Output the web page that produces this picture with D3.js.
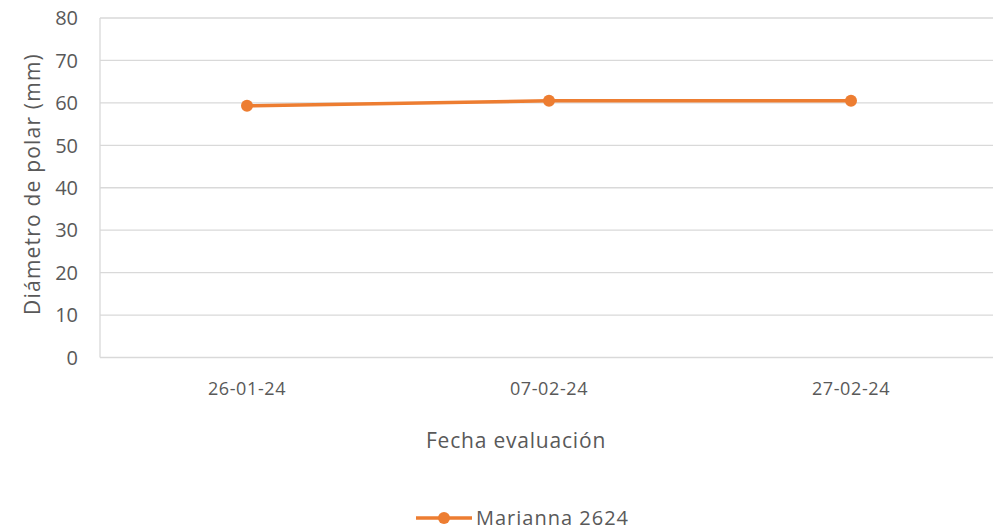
<!DOCTYPE html>
<html>
<head>
<meta charset="utf-8">
<script src="https://cdn.jsdelivr.net/npm/d3@7"></script>
<style>
  body { margin: 0; background: #fff; }
  text { font-family: "Open Sans", sans-serif; fill: #595959; }
</style>
</head>
<body>
<div id="chart"></div>
<script>
const fechas = ['26-01-24', '07-02-24', '27-02-24'];
const marianna = [59.3, 60.5, 60.5];
const yTicks = [0, 10, 20, 30, 40, 50, 60, 70, 80];
const serieNombre = 'Marianna 2624';

const width = 993, height = 530;
const plot = { left: 100, right: 993, top: 18, bottom: 357.5 };
const orange = '#ED7D31';

const svg = d3.select('#chart').append('svg')
    .attr('width', width)
    .attr('height', height);

const x = d3.scaleBand()
    .domain(fechas)
    .range([96, 1002])
    .padding(0);

const y = d3.scaleLinear()
    .domain([0, 80])
    .range([plot.bottom, plot.top]);

// gridlines
svg.append('g')
    .selectAll('line')
    .data(yTicks.filter(t => t > 0))
    .join('line')
    .attr('x1', plot.left)
    .attr('x2', plot.right)
    .attr('y1', d => y(d))
    .attr('y2', d => y(d))
    .style('stroke', '#D9D9D9')
    .style('stroke-width', 1.3);

// axes lines
svg.append('line')
    .attr('x1', plot.left).attr('x2', plot.left)
    .attr('y1', y(80)).attr('y2', y(0))
    .style('stroke', '#D9D9D9').style('stroke-width', 1.3);
svg.append('line')
    .attr('x1', plot.left).attr('x2', plot.right)
    .attr('y1', y(0)).attr('y2', y(0))
    .style('stroke', '#D9D9D9').style('stroke-width', 1.3);

// y tick labels
svg.append('g')
    .selectAll('text')
    .data(yTicks)
    .join('text')
    .attr('x', 78)
    .attr('y', d => y(d))
    .attr('dy', '0.36em')
    .attr('text-anchor', 'end')
    .style('font-size', '20px')
    .text(d => d);

// x tick labels
svg.append('g')
    .selectAll('text')
    .data(fechas)
    .join('text')
    .attr('x', d => x(d) + x.bandwidth() / 2)
    .attr('y', 395)
    .attr('text-anchor', 'middle')
    .style('font-size', '18px')
    .style('letter-spacing', '0.6px')
    .text(d => d);

// axis titles
svg.append('text')
    .attr('x', 516)
    .attr('y', 448)
    .attr('text-anchor', 'middle')
    .style('font-size', '21px')
    .style('letter-spacing', '0.8px')
    .text('Fecha evaluación');

svg.append('text')
    .attr('transform', `translate(40, ${(33 + 335) / 2}) rotate(-90)`)
    .attr('text-anchor', 'middle')
    .style('font-size', '21px')
    .style('letter-spacing', '1.2px')
    .text('Diámetro de polar (mm)');

// series
const line = d3.line()
    .x((d, i) => x(fechas[i]) + x.bandwidth() / 2)
    .y(d => y(d));

svg.append('path')
    .datum(marianna)
    .attr('d', line)
    .style('fill', 'none')
    .style('stroke', orange)
    .style('stroke-width', 3.5)
    .style('stroke-linecap', 'round');

svg.append('g')
    .selectAll('circle')
    .data(marianna)
    .join('circle')
    .attr('cx', (d, i) => x(fechas[i]) + x.bandwidth() / 2)
    .attr('cy', d => y(d))
    .attr('r', 6)
    .style('fill', orange);

// legend
const legend = svg.append('g').attr('transform', 'translate(416, 518)');
legend.append('line')
    .attr('x1', 0).attr('x2', 56)
    .attr('y1', 0).attr('y2', 0)
    .style('stroke', orange)
    .style('stroke-width', 3.5);
legend.append('circle')
    .attr('cx', 28).attr('cy', 0).attr('r', 6)
    .style('fill', orange);
legend.append('text')
    .attr('x', 60)
    .attr('y', 0)
    .attr('dy', '0.36em')
    .style('font-size', '20px')
    .style('letter-spacing', '1px')
    .text(serieNombre);
</script>
</body>
</html>
